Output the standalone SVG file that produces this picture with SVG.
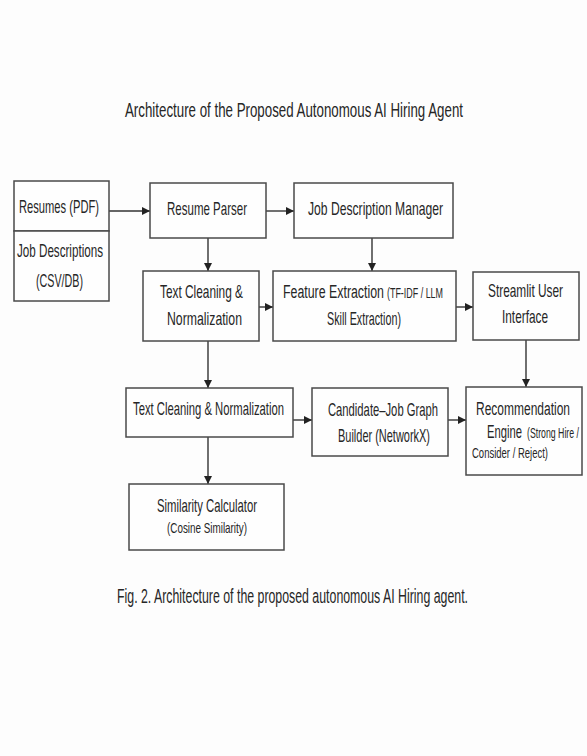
<svg xmlns="http://www.w3.org/2000/svg" width="587" height="756" viewBox="0 0 587 756">
<style>
.bx{fill:#fefefe;stroke:#4a4a4a;stroke-width:1.5}
.t{font-family:"Liberation Sans","Open Sans",sans-serif;font-size:18px;fill:#262626}
.s{font-size:14px}
.ttl{font-size:19.5px}
.e{stroke:#333;stroke-width:1.4;fill:none;marker-end:url(#ah)}
</style>
<defs>
<marker id="ah" viewBox="0 0 10 10" refX="10" refY="5" markerWidth="8" markerHeight="8" markerUnits="userSpaceOnUse" orient="auto">
<path d="M0,0 L10,5 L0,10 z" fill="#222"/>
</marker>
</defs>
<rect width="587" height="756" fill="#fdfdfd"/>
<text class="t ttl" transform="translate(125,117) scale(0.8,1)" textLength="422.5" lengthAdjust="spacingAndGlyphs">Architecture of the Proposed Autonomous AI Hiring Agent</text>

<g id="connectors">
<line class="e" x1="109" y1="211" x2="150" y2="211"/>
<line class="e" x1="266" y1="211" x2="294" y2="211"/>
<line class="e" x1="208" y1="238" x2="208" y2="271"/>
<line class="e" x1="372" y1="238" x2="372" y2="271"/>
<line class="e" x1="259" y1="307" x2="273" y2="307"/>
<line class="e" x1="456" y1="307" x2="473" y2="307"/>
<line class="e" x1="208" y1="341" x2="208" y2="388"/>
<line class="e" x1="526" y1="340" x2="526" y2="387"/>
<line class="e" x1="293" y1="420" x2="312" y2="420"/>
<line class="e" x1="448" y1="420" x2="466" y2="420"/>
<line class="e" x1="208" y1="437" x2="208" y2="484"/>
</g>

<g id="resumes">
<rect class="bx" x="14" y="181" width="95" height="50"/>
<text class="t" transform="translate(19,213) scale(0.8,1)" textLength="100" lengthAdjust="spacingAndGlyphs">Resumes (PDF)</text>
</g>
<g id="jobdesc">
<rect class="bx" x="14" y="231" width="95" height="70"/>
<text class="t" transform="translate(17,257) scale(0.8,1)" textLength="107.5" lengthAdjust="spacingAndGlyphs">Job Descriptions</text>
<text class="t" transform="translate(36,287) scale(0.8,1)" textLength="58.75" lengthAdjust="spacingAndGlyphs">(CSV/DB)</text>
</g>
<g id="parser">
<rect class="bx" x="150" y="183" width="116" height="55"/>
<text class="t" transform="translate(167,215) scale(0.8,1)" textLength="100" lengthAdjust="spacingAndGlyphs">Resume Parser</text>
</g>
<g id="jdm">
<rect class="bx" x="294" y="183" width="159" height="55"/>
<text class="t" transform="translate(308,215) scale(0.8,1)" textLength="168.75" lengthAdjust="spacingAndGlyphs">Job Description Manager</text>
</g>
<g id="clean1">
<rect class="bx" x="143" y="271" width="116" height="70"/>
<text class="t" transform="translate(160,298) scale(0.8,1)" textLength="103.75" lengthAdjust="spacingAndGlyphs">Text Cleaning &amp;</text>
<text class="t" transform="translate(167,325) scale(0.8,1)" textLength="93.75" lengthAdjust="spacingAndGlyphs">Normalization</text>
</g>
<g id="feature">
<rect class="bx" x="273" y="271" width="183" height="70"/>
<text class="t" transform="translate(283,298) scale(0.68,1)" textLength="148.5" lengthAdjust="spacingAndGlyphs">Feature Extraction</text>
<text class="t s" transform="translate(387,298) scale(0.63,1)" textLength="88.9" lengthAdjust="spacingAndGlyphs">(TF-IDF / LLM</text>
<text class="t" transform="translate(327,325) scale(0.8,1)" textLength="92.5" lengthAdjust="spacingAndGlyphs">Skill Extraction)</text>
</g>
<g id="streamlit">
<rect class="bx" x="473" y="272" width="106" height="68"/>
<text class="t" transform="translate(488,297) scale(0.8,1)" textLength="93.75" lengthAdjust="spacingAndGlyphs">Streamlit User</text>
<text class="t" transform="translate(502,323) scale(0.8,1)" textLength="57.5" lengthAdjust="spacingAndGlyphs">Interface</text>
</g>
<g id="clean2">
<rect class="bx" x="126" y="388" width="167" height="49"/>
<text class="t" transform="translate(133,415) scale(0.8,1)" textLength="188.75" lengthAdjust="spacingAndGlyphs">Text Cleaning &amp; Normalization</text>
</g>
<g id="graph">
<rect class="bx" x="312" y="388" width="136" height="68"/>
<text class="t" transform="translate(328,416) scale(0.8,1)" textLength="137.5" lengthAdjust="spacingAndGlyphs">Candidate–Job Graph</text>
<text class="t" transform="translate(338,442) scale(0.8,1)" textLength="115" lengthAdjust="spacingAndGlyphs">Builder (NetworkX)</text>
</g>
<g id="recommend">
<rect class="bx" x="466" y="387" width="116" height="88"/>
<text class="t" transform="translate(476,415) scale(0.66,1)" textLength="142.4" lengthAdjust="spacingAndGlyphs">Recommendation</text>
<text class="t" transform="translate(487,438) scale(0.8,1)" textLength="43.75" lengthAdjust="spacingAndGlyphs">Engine</text>
<text class="t s" transform="translate(527,438) scale(0.62,1)" textLength="83.9" lengthAdjust="spacingAndGlyphs">(Strong Hire /</text>
<text class="t s" transform="translate(472,458) scale(0.8,1)" textLength="95" lengthAdjust="spacingAndGlyphs">Consider / Reject)</text>
</g>
<g id="similarity">
<rect class="bx" x="129" y="484" width="155" height="66"/>
<text class="t" transform="translate(157,512) scale(0.8,1)" textLength="125" lengthAdjust="spacingAndGlyphs">Similarity Calculator</text>
<text class="t s" transform="translate(167,533) scale(0.8,1)" textLength="100" lengthAdjust="spacingAndGlyphs">(Cosine Similarity)</text>
</g>

<text class="t ttl" transform="translate(117,603) scale(0.8,1)" textLength="438.75" lengthAdjust="spacingAndGlyphs">Fig. 2. Architecture of the proposed autonomous AI Hiring agent.</text>
</svg>
